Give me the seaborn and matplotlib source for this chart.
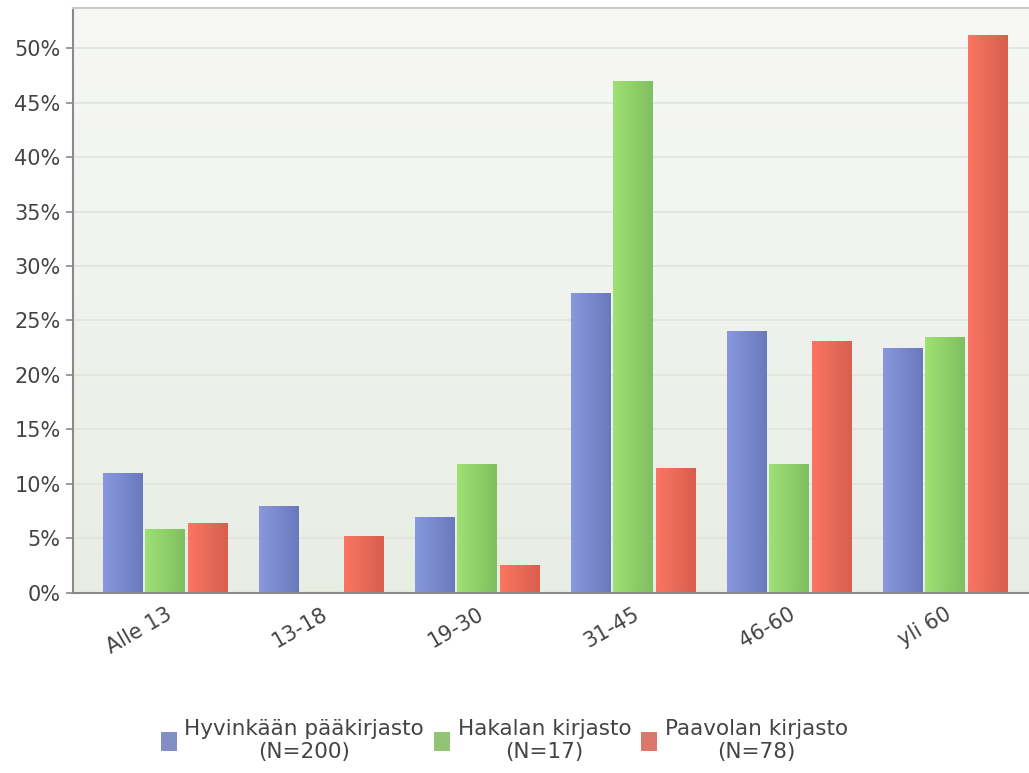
import numpy as np
import pandas as pd
import matplotlib
matplotlib.use("Agg")
import matplotlib.pyplot as plt
import matplotlib.colors as mcolors
import seaborn as sns

categories = ["Alle 13", "13-18", "19-30", "31-45", "46-60", "yli 60"]
series_names = ["Hyvinkään pääkirjasto\n(N=200)", "Hakalan kirjasto\n(N=17)", "Paavolan kirjasto\n(N=78)"]
hyvinkaa = [11.0, 8.0, 7.0, 27.5, 24.0, 22.5]
hakala = [5.9, 0.0, 11.8, 47.0, 11.8, 23.5]
paavola = [6.4, 5.2, 2.6, 11.5, 23.1, 51.2]
yticks = [0, 5, 10, 15, 20, 25, 30, 35, 40, 45, 50]

light_cols = ["#8898de", "#9ee174", "#fb7562"]
dark_cols = ["#6a79bb", "#80bf60", "#d85f4e"]
mid_cols = ["#7888cf", "#8fd169", "#eb6a58"]

rows = []
for name, vals in zip(series_names, [hyvinkaa, hakala, paavola]):
    for c, v in zip(categories, vals):
        rows.append({"cat": c, "lib": name, "val": v})
df = pd.DataFrame(rows)

sns.set_theme(style="white")
plt.rcParams['font.family'] = ['DejaVu Sans']

fig = plt.figure(figsize=(10.29, 7.73), dpi=100)
ax = fig.add_axes([0.071, 0.233, 0.929, 0.757])

sns.barplot(data=df, x="cat", y="val", hue="lib", order=categories,
            hue_order=series_names, palette=mid_cols, width=0.82, gap=0.08,
            linewidth=0, ax=ax, legend=True)

# background gradient
bg = np.linspace(0, 1, 256).reshape(-1, 1)
bg_cmap = mcolors.LinearSegmentedColormap.from_list("bg", ["#e8ede4", "#f7f8f6"])
ax.imshow(bg, cmap=bg_cmap, extent=[0, 1, 0, 1], transform=ax.transAxes,
          aspect="auto", origin="lower", zorder=0)

# bar gradients
nb = len(categories)
for i, bar in enumerate(ax.patches[:nb * 3]):
    s = i // nb
    x, w, h = bar.get_x(), bar.get_width(), bar.get_height()
    if h <= 0:
        bar.set_edgecolor(dark_cols[s])
        bar.set_linewidth(1.5)
        continue
    cm = mcolors.LinearSegmentedColormap.from_list("b%d" % s, [light_cols[s], dark_cols[s]])
    grad = np.linspace(0, 1, 64).reshape(1, -1)
    im = ax.imshow(grad, cmap=cm, extent=[x, x + w, 0, h], aspect="auto", zorder=2)
    im.set_clip_path(bar)

ax.set_xlim(-0.59, 5.54)
ax.set_ylim(0, 53.7)

ax.set_yticks(yticks)
ax.set_yticklabels([f"{t}%" for t in yticks])
ax.yaxis.grid(True, color="#e1e4de", linewidth=1.2)
ax.set_axisbelow(True)
for gl in ax.get_ygridlines():
    gl.set_zorder(0.5)

ax.set_xlabel("")
ax.set_ylabel("")

ax.spines["right"].set_visible(False)
ax.spines["top"].set_color("#c8c8c8")
ax.spines["top"].set_linewidth(1.5)
ax.spines["left"].set_color("#8a8a8a")
ax.spines["bottom"].set_color("#8a8a8a")
ax.spines["left"].set_linewidth(1.5)
ax.spines["bottom"].set_linewidth(1.5)

ax.tick_params(axis="y", which="major", left=True, length=5, width=1.2,
               color="#8a8a8a", labelsize=15, labelcolor="#444444", pad=4)
ax.tick_params(axis="x", length=0, labelsize=15, labelcolor="#444444", pad=8)
for lab in ax.get_xticklabels():
    lab.set_rotation(30)
    lab.set_ha("right")
    lab.set_rotation_mode("anchor")

handles, labels = ax.get_legend_handles_labels()
ax.get_legend().remove()
leg = fig.legend(handles, labels, loc="center", bbox_to_anchor=(0.49, 0.042),
                 ncol=3, frameon=False, fontsize=15.5, handlelength=0.75,
                 handleheight=1.0, handletextpad=0.35, columnspacing=0.45,
                 labelcolor="#444444")
for t in leg.get_texts():
    t.set_multialignment("center")

fig.savefig("out.png", dpi=100)
